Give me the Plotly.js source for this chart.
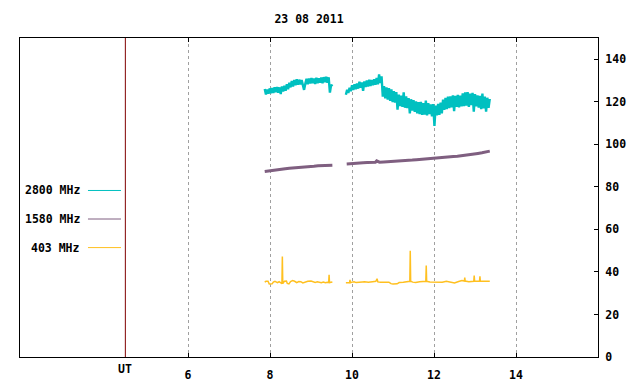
<!DOCTYPE html>
<html>
<head>
<meta charset="utf-8">
<script src="https://cdn.plot.ly/plotly-3.0.1.min.js"></script>
<style>html,body{margin:0;padding:0;background:#fff;}#plot{width:640px;height:384px;}</style>
</head>
<body>
<div id="plot"></div>
<script>
// ---------- DATA ----------
const chartTitle = "23 08 2011";
const seriesNames = ["2800 MHz", "1580 MHz", "403 MHz"];
const utHour = 4.47;
const xTickVals = [6, 8, 10, 12, 14];
const xTickText = ["6", "8", "10", "12", "14"];
const yTickVals = [0, 20, 40, 60, 80, 100, 120, 140];

// 2800 MHz, sampled every 0.03 h
const f2800_seg1_start = 7.87;
const f2800_seg2_start = 9.85;
const f2800_step = 0.03;
const f2800_seg1 = [126,123.5,125.8,123.8,126.3,124,126.5,124.2,126.8,124.5,127,124.3,126.8,123.6,127.2,124.8,
  127.5,125.2,128.3,125.9,129,126.8,129.8,127.2,130.3,127.8,130.6,128,130.4,128.2,130.2,127.5,125.6,128.5,
  130.8,128.3,131,128.6,131.2,128.7,130.9,128.4,131.3,128.8,131,129,131.4,128.7,131.6,129.2,131.8,129,131.5,
  124.3,128,127.3];
const f2800_seg2 = [123.3,125.6,124.2,126.6,125,127.8,
  125.6,128.2,125.9,128.6,126.2,129.4,126.6,129.1,125.2,129.6,127,130,127.2,130.4,127.4,130.2,127.8,130.6,
  128,131.2,128.2,132.9,128.8,132,
  122.4,127.4,121.6,126.8,121,126.4,120.4,125.8,119.8,125,119.6,124.6,116.3,123.4,118,122.9,117.6,124.5,
  117.2,122.6,117,121.8,114.5,121.2,115.8,120.8,115.3,120.2,114.6,119.8,114.2,120,113.8,119.4,114,120.6,
  113.6,119.4,114.2,118.8,113.2,118.9,108.6,118.2,113.6,119,113.9,119.6,114.6,121,116.2,121.9,116.6,122.4,
  117,122.6,117.4,123,115.6,122.8,117.6,123.2,117.4,122.9,117.8,124,118,124.4,118.2,124.6,117.6,123.8,
  118.4,124.2,115.4,123.6,117.8,123,117.2,122.8,116.6,123.8,116.9,122.4,115.4,121.9,117.2,121.4];

// 1580 MHz
const f1580_seg1_t = [7.87,7.97,8.07,8.17,8.27,8.37,8.47,8.57,8.67,8.77,8.87,8.97,9.07,9.17,9.27,9.37,9.47,9.52];
const f1580_seg1_v = [87.2,87.4,87.6,88.0,88.3,88.5,88.8,88.9,89.1,89.3,89.4,89.5,89.7,89.9,90.0,90.3,90.4,90.2];
const f1580_seg2_t = [9.87,9.97,10.07,10.17,10.27,10.37,10.47,10.57,10.6,10.67,10.77,10.87,10.97,11.07,11.17,11.27,
  11.37,11.47,11.57,11.67,11.77,11.87,11.97,12.07,12.17,12.27,12.37,12.47,12.57,12.67,12.77,12.87,12.97,13.07,13.17,13.27,13.36];
const f1580_seg2_v = [90.8,91.0,91.1,91.2,91.3,91.4,91.5,91.6,92.2,91.6,91.7,91.8,92.0,91.9,92.1,92.3,
  92.4,92.6,92.8,93.0,93.1,93.3,93.5,93.6,93.7,94.0,94.1,94.3,94.4,94.6,94.9,95.2,95.4,95.7,96.0,96.4,96.8];

// 403 MHz
const f403_seg1_t = [7.87,7.90,7.95,7.98,8.05,8.08,8.12,8.18,8.22,8.27,8.29,8.30,8.31,8.35,8.40,8.42,8.46,8.50,8.55,
  8.60,8.65,8.70,8.75,8.80,8.85,8.92,9.00,9.05,9.10,9.15,9.20,9.25,9.30,9.35,9.40,9.43,9.44,9.45,9.52];
const f403_seg1_v = [35.2,35.6,35.6,34.3,34.4,35.2,35.6,35.0,35.4,35.0,34.5,47.3,34.6,35.6,35.7,34.6,34.4,35.5,35.9,
  35.6,35.0,35.5,35.4,34.8,35.1,35.6,35.7,35.5,35.0,35.4,35.2,34.9,35.2,34.9,35.1,35.0,38.7,35.0,35.3];
const f403_seg2_t = [9.85,9.94,9.95,9.96,10.0,10.05,10.1,10.2,10.25,10.3,10.4,10.5,10.58,10.61,10.63,10.7,10.8,10.9,
  10.95,11.0,11.1,11.15,11.25,11.35,11.41,11.42,11.43,11.48,11.55,11.65,11.75,11.80,11.81,11.82,11.9,12.0,12.1,
  12.2,12.3,12.4,12.5,12.6,12.68,12.74,12.75,12.76,12.85,12.97,12.98,12.99,13.11,13.12,13.13,13.2,13.3,13.36];
const f403_seg2_v = [34.9,35.0,36.3,34.9,35.2,35.4,35.0,35.0,35.3,35.4,35.1,35.4,35.6,36.8,35.3,35.1,35.3,35.2,
  34.5,34.3,34.4,35.0,35.2,35.4,35.6,50.0,35.6,35.2,35.0,35.4,35.7,35.6,43.0,35.6,35.3,35.2,34.9,
  35.1,35.6,35.2,34.8,35.5,36.0,35.7,37.4,35.7,35.4,35.6,38.3,35.6,35.6,37.9,35.6,35.6,35.6,35.6];

const colors = ["#00c0c0", "#7f5f80", "#ffc020"];

// ---------- BUILD ----------
function grid(start, step, n) { const a = []; for (let i = 0; i < n; i++) a.push(+(start + i * step).toFixed(4)); return a; }
function join(t1, v1, t2, v2) { return { x: t1.concat([null], t2), y: v1.concat([null], v2) }; }

const c = join(grid(f2800_seg1_start, f2800_step, f2800_seg1.length), f2800_seg1,
               grid(f2800_seg2_start, f2800_step, f2800_seg2.length), f2800_seg2);
const p = join(f1580_seg1_t, f1580_seg1_v, f1580_seg2_t, f1580_seg2_v);
const o = join(f403_seg1_t, f403_seg1_v, f403_seg2_t, f403_seg2_v);

const font = { family: "DejaVu Sans Mono, Liberation Mono, monospace", size: 11.5, color: "#000" };

const traces = [
  { x: p.x, y: p.y, mode: "lines", line: { color: colors[1], width: 3 }, connectgaps: false, showlegend: false, hoverinfo: "skip" },
  { x: c.x, y: c.y, mode: "lines", line: { color: colors[0], width: 2.4 }, connectgaps: false, showlegend: false, hoverinfo: "skip" },
  { x: o.x, y: o.y, mode: "lines", line: { color: colors[2], width: 1.5 }, connectgaps: false, showlegend: false, hoverinfo: "skip" }
];

const legendY = [0.522, 0.4326, 0.343];
const annotations = seriesNames.map((n, i) => ({
  text: "<b>" + n + "</b>", xref: "paper", yref: "paper", x: 0.107, y: legendY[i],
  xanchor: "right", yanchor: "middle", showarrow: false, font: font
}));
annotations.push({ text: "<b>UT</b>", xref: "x", yref: "paper", x: utHour, y: -0.037,
  xanchor: "center", yanchor: "middle", showarrow: false, font: font });

const shapes = seriesNames.map((n, i) => ({
  type: "line", xref: "paper", yref: "paper", x0: 0.1176, x1: 0.1747, y0: legendY[i], y1: legendY[i],
  line: { color: colors[i], width: 1 }
}));
shapes.push({ type: "line", xref: "x", yref: "paper", x0: utHour, x1: utHour, y0: 0, y1: 1,
  line: { color: "#800000", width: 1 } });

const layout = {
  width: 640, height: 384,
  margin: { l: 20, r: 42, t: 38, b: 27 },
  paper_bgcolor: "#fff", plot_bgcolor: "#fff",
  font: font,
  title: { text: "<b>" + chartTitle + "</b>", x: 0.5, xref: "paper", y: 1 - 19 / 384, yref: "container",
           xanchor: "center", yanchor: "middle", font: font },
  xaxis: {
    range: [1.9, 16.0], tickvals: xTickVals, ticktext: xTickText.map(s => "<b>" + s + "</b>"),
    ticks: "inside", ticklen: 4, tickcolor: "#000", showline: true, linecolor: "#000", linewidth: 1,
    mirror: "ticks", showgrid: true, gridcolor: "#a0a0a0", griddash: "dot", gridwidth: 1,
    zeroline: false, ticklabelstandoff: 7, fixedrange: true
  },
  yaxis: {
    range: [0, 150], side: "right", tickvals: yTickVals, ticktext: yTickVals.map(v => "<b>" + v + "</b>"),
    ticks: "inside", ticklen: 4, tickcolor: "#000", showline: true, linecolor: "#000", linewidth: 1,
    mirror: true, showgrid: false, zeroline: false, ticklabelstandoff: 4, fixedrange: true
  },
  annotations: annotations,
  shapes: shapes
};

Plotly.newPlot("plot", traces, layout, { staticPlot: true, displayModeBar: false });
</script>
</body>
</html>
